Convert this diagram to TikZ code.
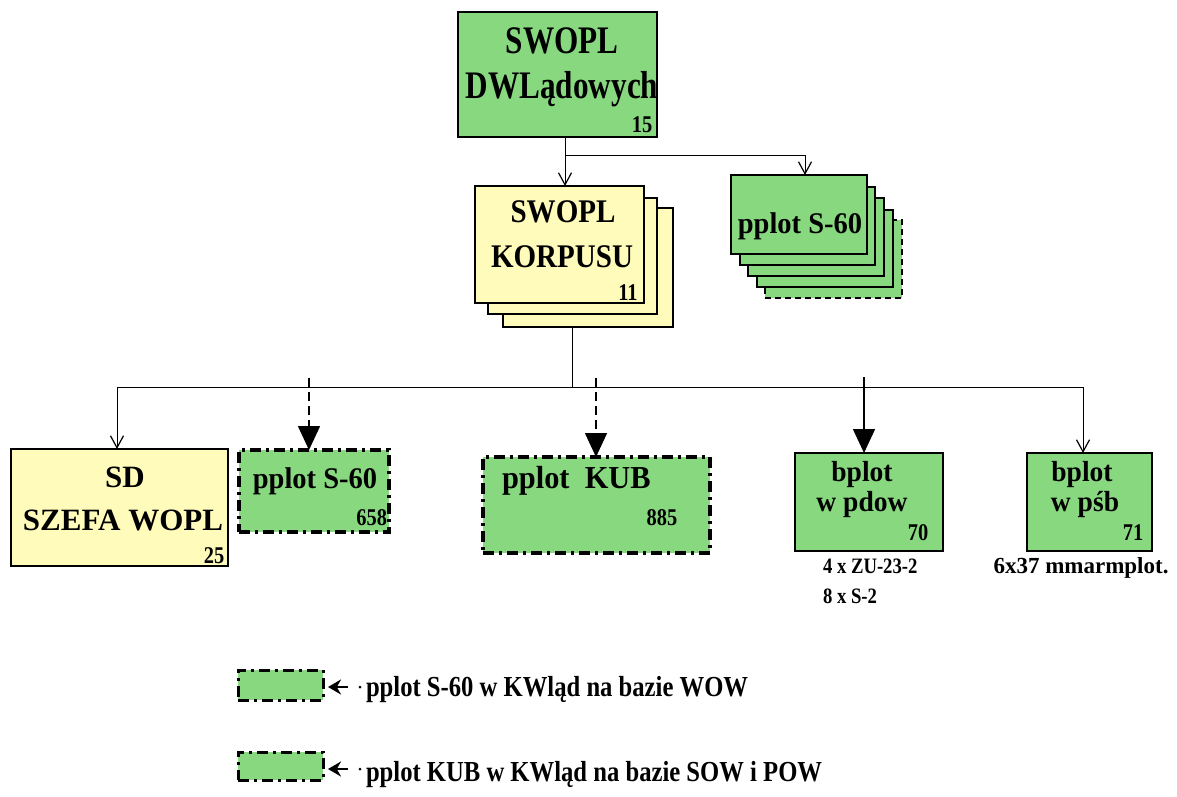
\documentclass[tikz,border=0pt]{standalone}
\usepackage{fontspec}
\setmainfont{Liberation Serif}
\newfontfamily\fA[FakeStretch=0.80]{Liberation Serif}
\newfontfamily\fB[FakeStretch=0.88]{Liberation Serif}
\newfontfamily\fC[FakeStretch=0.95]{Liberation Serif}
\newfontfamily\fD[FakeStretch=0.85]{Liberation Serif}
\newfontfamily\fE{Liberation Serif}
\newcommand\myfs[1]{\fontsize{#1}{#1}\selectfont}
\usetikzlibrary{arrows.meta}
\definecolor{boxgreen}{RGB}{136,216,128}
\definecolor{boxyellow}{RGB}{255,251,186}
\tikzset{
  box/.style={draw=black, line width=1.4pt, inner sep=0pt, outer sep=0pt, anchor=north west},
  gbox/.style={box, fill=boxgreen},
  ybox/.style={box, fill=boxyellow},
  ddbox/.style={gbox, line width=3.5pt, dash pattern=on 11pt off 5pt on 3pt off 5pt},
  conn/.style={line width=1pt, -{Straight Barb[length=12pt,width=13pt,line width=1.2pt]}},
  plain/.style={line width=1pt},
  bigarrow/.style={line width=1.5pt, -{Triangle[length=24pt,width=22pt]}},
  dconn/.style={bigarrow, dash pattern=on 9pt off 5pt},
  legarrow/.style={line width=2.4pt, -{Stealth[length=13pt,width=15pt]}, shorten >=5pt},
  txt/.style={inner sep=0pt, outer sep=0pt, anchor=base},
  tA/.style={txt, font=\fA\bfseries\myfs{39}},
  tB/.style={txt, font=\fB\bfseries\myfs{33}},
  tC/.style={txt, font=\fC\bfseries\myfs{30}},
  tN/.style={txt, font=\fD\bfseries\myfs{24}},
  tS/.style={txt, font=\fD\bfseries\myfs{22}},
  tL/.style={txt, anchor=base west, font=\fD\bfseries\myfs{29}},
}
\begin{document}
\begin{tikzpicture}[x=1pt,y=-1pt]
\useasboundingbox (0,0) rectangle (1177,796);
% top box
\node[gbox, minimum width=199pt, minimum height=125pt] (top) at (458,12) {};
\node[tA] (t1) at (562,53) {SWOPL};
\node[tA] (t2) at (562,98) {DWLądowych};
\node[tN] (t3) at (642,132) {15};
% korpus stack
\node[ybox, minimum width=170pt, minimum height=119pt] (korp3) at (503,208) {};
\node[ybox, minimum width=169pt, minimum height=116pt] (korp2) at (488,198) {};
\node[ybox, minimum width=169pt, minimum height=117pt] (korp) at (475,186) {};
\node[tB] (k1) at (563,222) {SWOPL};
\node[tB] (k2) at (562,267) {KORPUSU};
\node[tN] (k3) at (628,300) {11};
% pplot stack
\node[gbox, line width=1.8pt, dash pattern=on 6pt off 4pt, minimum width=137pt, minimum height=78pt] (pp5) at (765,220) {};
\node[gbox, minimum width=136pt, minimum height=77pt] (pp4) at (757,210) {};
\node[gbox, minimum width=136pt, minimum height=78pt] (pp3) at (748,198) {};
\node[gbox, minimum width=135pt, minimum height=78pt] (pp2) at (740,187) {};
\node[gbox, minimum width=136pt, minimum height=79pt] (pp) at (731,175) {};
\node[tC] (p1) at (800,233) {pplot S-60};
% bottom row
\node[ybox, minimum width=217pt, minimum height=117pt] (sd) at (11,449) {};
\node[txt, font=\fE\bfseries\myfs{31}] (s1) at (125,487) {SD};
\node[txt, font=\fE\bfseries\myfs{31}] (s2) at (123,530) {SZEFA WOPL};
\node[tN] (s3) at (214,563) {25};
\node[ddbox, minimum width=150pt, minimum height=82pt] (p658) at (239,450) {};
\node[tC] (q1) at (315,488) {pplot S-60};
\node[tN, anchor=base east] (q2) at (387,525) {658};
\node[ddbox, minimum width=227pt, minimum height=96pt] (kub) at (483,457) {};
\node[tC, anchor=base west, font=\fC\bfseries\myfs{32}] (u1) at (502,488) {pplot~~KUB};
\node[tN] (u2) at (662,525) {885};
\node[gbox, minimum width=148pt, minimum height=98pt] (pdow) at (795,453) {};
\node[tC, font=\fC\bfseries\myfs{29}] (w1) at (862,481) {bplot};
\node[tC, font=\fC\bfseries\myfs{29}] (w2) at (862,511) {w pdow};
\node[tN] (w3) at (918,540) {70};
\node[gbox, minimum width=125pt, minimum height=98pt] (psb) at (1027,453) {};
\node[tC, font=\fC\bfseries\myfs{29}] (v1) at (1082,481) {bplot};
\node[tC, font=\fC\bfseries\myfs{29}] (v2) at (1085,511) {w pśb};
\node[tN] (v3) at (1133,540) {71};
\node[tS, anchor=base west] (x1) at (823,573) {4 x ZU-23-2};
\node[tS, anchor=base west] (x2) at (823,603) {8 x S-2};
\node[txt, font=\fE\bfseries\myfs{23}] (x3) at (1081,573) {6x37 mmarmplot.};
% connectors top
\coordinate (j1) at (565,155);
\coordinate (j2) at (805,155);
\draw[conn] (j1 |- top.south) -- (j1 |- korp.north);
\draw[conn] (j1) -- (j2) -- (j2 |- pp.north);
% connectors bottom
\coordinate (b0) at (572,387);
\coordinate (bl) at (117,387);
\coordinate (br) at (1083,387);
\draw[plain] (b0 |- korp3.south) -- (b0);
\draw[plain] (bl) -- (br);
\draw[conn] (bl) -- (bl |- sd.north);
\draw[conn] (br) -- (br |- psb.north);
\coordinate (d1) at (309,378);
\coordinate (d2) at (596,378);
\coordinate (d3) at (864,377);
\draw[dconn] (d1) -- (d1 |- p658.north);
\draw[dconn] (d2) -- (d2 |- kub.north);
\draw[bigarrow] (d3) -- (d3 |- pdow.north);
% legend
\node[ddbox, line width=3pt, minimum width=85pt, minimum height=30pt] (leg1) at (238,670) {};
\node[ddbox, line width=3pt, minimum width=85pt, minimum height=28pt] (leg2) at (238,752) {};
\coordinate (a1) at (348,687);
\coordinate (a2) at (348,769);
\draw[legarrow] (a1) -- (a1 -| leg1.east);
\draw[legarrow] (a2) -- (a2 -| leg2.east);
\fill (a1) ++(12,0) circle (1.5pt);
\fill (a2) ++(12,0) circle (1.5pt);
\node[tL] (l1) at (366,696) {pplot S-60 w KWląd na bazie WOW};
\node[tL] (l2) at (366,781) {pplot KUB w KWląd na bazie SOW i POW};
\end{tikzpicture}
\end{document}
